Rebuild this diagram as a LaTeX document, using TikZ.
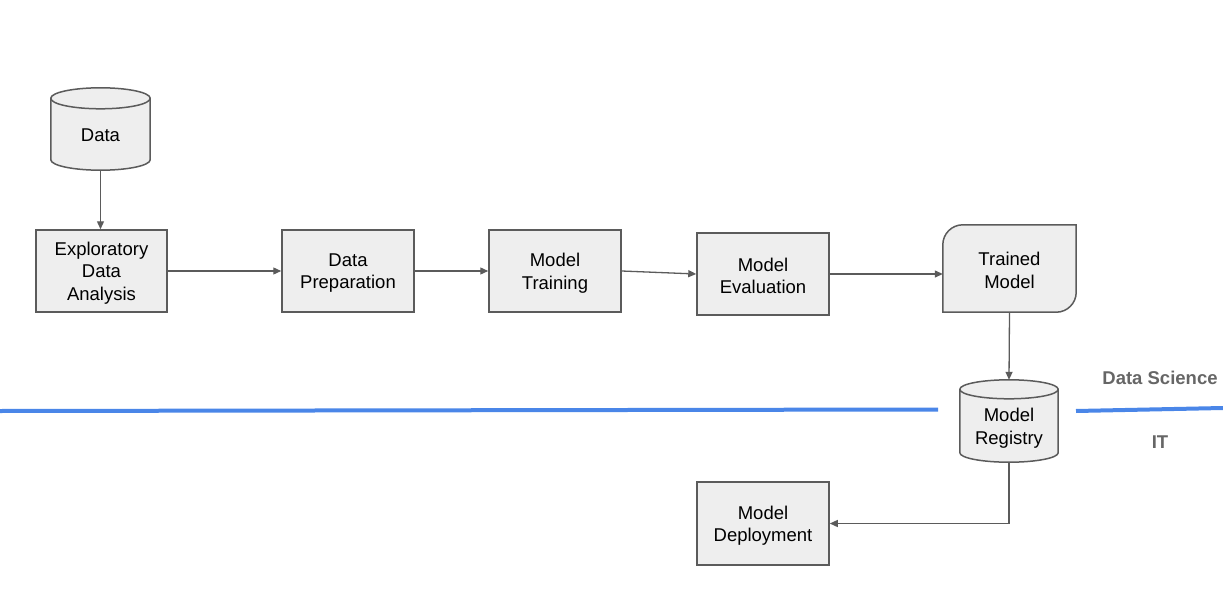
\documentclass[tikz,border=0pt]{standalone}
\usepackage{fontspec}
\setmainfont{Liberation Sans}
\usetikzlibrary{arrows.meta,calc,backgrounds}
\definecolor{boxfill}{HTML}{EEEEEE}
\definecolor{boxline}{HTML}{5B5B5B}
\definecolor{lanecol}{HTML}{4A86E8}
\definecolor{lanetext}{HTML}{666666}
\newcommand\drawcylinder[2]{%
  \path[cylbody] let \p1=(#1.north west), \p2=(#1.south east) in
    (\x1,\y1-#2) -- (\x1,\y2+#2)
    arc[start angle=180,end angle=360,x radius={(\x2-\x1)/2},y radius=#2]
    -- (\x2,\y1-#2)
    arc[start angle=0,end angle=180,x radius={(\x2-\x1)/2},y radius=#2] -- cycle;
  \path[cylbody,fill=none] let \p1=(#1.north west), \p2=(#1.south east) in
    (\x1,\y1-#2) arc[start angle=180,end angle=360,x radius={(\x2-\x1)/2},y radius=#2];
}
\begin{document}
\begin{tikzpicture}[x=1pt,y=1pt,
  txt/.style={align=center, inner sep=0pt, font=\fontsize{18.5}{22.5}\selectfont},
  box/.style={draw=boxline, fill=boxfill, line width=1.5pt, minimum width=132pt, minimum height=82pt, inner sep=0pt},
  boxtext/.style={txt, yshift=-2pt},
  shapeonly/.style={inner sep=0pt, draw=none},
  cylbody/.style={draw=boxline, fill=boxfill, line width=1.5pt},
  conn/.style={draw=boxline, line width=1.3pt, -{Triangle[length=8pt,width=7pt]}},
  lanelabel/.style={text=lanetext, inner sep=0pt, font=\bfseries\fontsize{18.5}{22}\selectfont},
  laneline/.style={draw=lanecol, line width=4pt}
]
\useasboundingbox (0,0) rectangle (1223,-591);

% lane divider
\draw[laneline] (0,-411) -- (938,-409.5);
\draw[laneline] (1076,-411) -- (1223,-408);
\node[lanelabel] (ds) at (1160,-378) {Data Science};
\node[lanelabel] (it) at (1160,-442) {IT};

% cylinders
\node[shapeonly, minimum width=99pt, minimum height=82pt] (data) at (100.5,-129) {};
\drawcylinder{data}{10.5pt}
\node[txt] (datatext) at (100.5,-135) {Data};

\node[shapeonly, minimum width=98pt, minimum height=82pt] (reg) at (1009,-421) {};
\drawcylinder{reg}{9.5pt}
\node[txt] (regtext) at (1009,-428) {Model\\Registry};

% boxes
\node[box, minimum width=131pt, label={[boxtext]center:Exploratory\\Data\\Analysis}] (eda) at (101.5,-271) {};
\node[box, label={[boxtext]center:Data\\Preparation}] (prep) at (348,-271) {};
\node[box, label={[boxtext]center:Model\\Training}] (train) at (555,-271) {};
\node[box, label={[boxtext]center:Model\\Evaluation}] (eval) at (763,-274) {};
\node[box, minimum height=83pt, label={[boxtext]center:Model\\Deployment}] (dep) at (763,-523.5) {};

\node[shapeonly, minimum width=133pt, minimum height=87pt, label={[boxtext]center:Trained\\Model}] (tm) at (1009.5,-268.5) {};
\begin{scope}[on background layer]
\draw[cylbody] (tm.south west) -- ([yshift=-20pt]tm.north west)
  arc[start angle=180,end angle=90,radius=20pt] -- (tm.north east)
  -- ([yshift=20pt]tm.south east)
  arc[start angle=0,end angle=-90,radius=20pt] -- cycle;
\end{scope}

% connectors
\draw[conn] (data.south) -- (data.south |- eda.north);
\draw[conn] (eda.east) -- (prep.west);
\draw[conn] (prep.east) -- (train.west);
\draw[conn] (train.east) -- (eval.west);
\draw[conn] (eval.east) -- (eval.east -| tm.west);
\draw[conn] (tm.south) -- (reg.north);
\draw[conn] (reg.south) |- (dep.east);
\end{tikzpicture}
\end{document}
